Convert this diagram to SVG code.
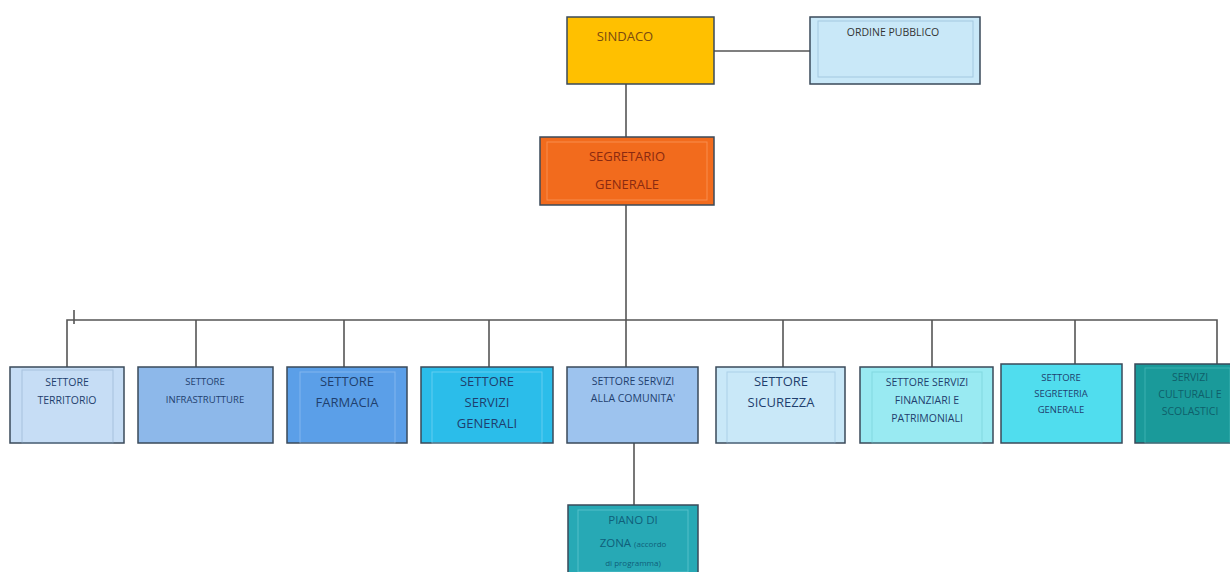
<svg xmlns="http://www.w3.org/2000/svg" width="1230" height="572" viewBox="0 0 1230 572">
<style>
.box{stroke:#3a4a5a;stroke-width:1.5}
.inner{fill:none;stroke-width:1;opacity:0.5}
.conn{fill:none;stroke:#555;stroke-width:1.6}
text{font-family:"Open Sans","Liberation Sans",sans-serif;text-anchor:middle}
.t{font-size:10.5px;fill:#1f3f6e}
.tb{font-size:13px;fill:#1f3f6e}
</style>
<rect width="1230" height="572" fill="#ffffff"/>
<g id="connectors">
<line class="conn" x1="714" y1="51" x2="810" y2="51" stroke-width="2.5"/>
<line class="conn" x1="626" y1="84" x2="626" y2="137"/>
<line class="conn" x1="626" y1="205" x2="626" y2="320"/>
<polyline class="conn" points="67,367 67,320 1217,320 1217,364"/>
<line class="conn" x1="74" y1="310" x2="74" y2="324"/>
<line class="conn" x1="196" y1="320" x2="196" y2="367"/>
<line class="conn" x1="344" y1="320" x2="344" y2="367"/>
<line class="conn" x1="489" y1="320" x2="489" y2="367"/>
<line class="conn" x1="626" y1="320" x2="626" y2="367"/>
<line class="conn" x1="783" y1="320" x2="783" y2="367"/>
<line class="conn" x1="932" y1="320" x2="932" y2="367"/>
<line class="conn" x1="1075" y1="320" x2="1075" y2="364"/>
<line class="conn" x1="634" y1="443" x2="634" y2="505"/>
</g>
<g id="sindaco">
<rect class="box" x="567" y="17" width="147" height="67" fill="#ffc000"/>
<text x="625" y="41" class="tb" style="fill:#7a4a10">SINDACO</text>
</g>
<g id="ordine-pubblico">
<rect class="box" x="810" y="17" width="170" height="67" fill="#c9e8f8"/>
<rect class="inner" x="818" y="21" width="155" height="56" stroke="#7fa9c8"/>
<text x="893" y="36" class="t" style="fill:#333">ORDINE PUBBLICO</text>
</g>
<g id="segretario">
<rect class="box" x="540" y="137" width="174" height="68" fill="#f26b1d" stroke="#7a3010"/>
<rect class="inner" x="547" y="142" width="160" height="58" stroke="#ffb080"/>
<text x="627" y="161" class="tb" style="fill:#8a2a10">SEGRETARIO</text>
<text x="627" y="189" class="tb" style="fill:#8a2a10">GENERALE</text>
</g>
<g id="territorio">
<rect class="box" x="10" y="367" width="114" height="76" fill="#c6ddf5"/>
<rect class="inner" x="22" y="370" width="91" height="73" stroke="#8aa8c8"/>
<text x="67" y="386" class="t">SETTORE</text>
<text x="67" y="404" class="t">TERRITORIO</text>
</g>
<g id="infrastrutture">
<rect class="box" x="138" y="367" width="135" height="76" fill="#8db8ea"/>
<text x="205" y="385" class="t" style="font-size:9.5px">SETTORE</text>
<text x="205" y="403" class="t" style="font-size:9.5px">INFRASTRUTTURE</text>
</g>
<g id="farmacia">
<rect class="box" x="287" y="367" width="120" height="76" fill="#5b9fe8"/>
<rect class="inner" x="300" y="372" width="95" height="71" stroke="#a8cdf5"/>
<text x="347" y="386" class="tb">SETTORE</text>
<text x="347" y="407" class="tb">FARMACIA</text>
</g>
<g id="servizi-generali">
<rect class="box" x="421" y="367" width="132" height="76" fill="#2bbdea"/>
<rect class="inner" x="432" y="372" width="110" height="71" stroke="#9ae2f8"/>
<text x="487" y="386" class="tb">SETTORE</text>
<text x="487" y="407" class="tb">SERVIZI</text>
<text x="487" y="428" class="tb">GENERALI</text>
</g>
<g id="comunita">
<rect class="box" x="567" y="367" width="131" height="76" fill="#9dc3ee"/>
<text x="633" y="385" class="t">SETTORE SERVIZI</text>
<text x="633" y="402" class="t">ALLA COMUNITA'</text>
</g>
<g id="sicurezza">
<rect class="box" x="716" y="367" width="129" height="76" fill="#c9e8f8"/>
<rect class="inner" x="727" y="372" width="108" height="71" stroke="#8fb8d8"/>
<text x="781" y="386" class="tb">SETTORE</text>
<text x="781" y="407" class="tb">SICUREZZA</text>
</g>
<g id="finanziari">
<rect class="box" x="860" y="367" width="133" height="76" fill="#99eaf2"/>
<rect class="inner" x="872" y="372" width="110" height="71" stroke="#6cc8d0"/>
<text x="927" y="386" class="t">SETTORE SERVIZI</text>
<text x="927" y="404" class="t">FINANZIARI E</text>
<text x="927" y="422" class="t">PATRIMONIALI</text>
</g>
<g id="segreteria">
<rect class="box" x="1001" y="364" width="121" height="79" fill="#50ddee"/>
<text x="1061" y="381" class="t" style="font-size:9.5px">SETTORE</text>
<text x="1061" y="397" class="t" style="font-size:9.5px">SEGRETERIA</text>
<text x="1061" y="413" class="t" style="font-size:9.5px">GENERALE</text>
</g>
<g id="culturali">
<rect class="box" x="1135" y="364" width="100" height="79" fill="#1a9a9a"/>
<rect class="inner" x="1145" y="368" width="85" height="75" stroke="#5cc8c8"/>
<text x="1190" y="381" class="t" style="fill:#0f5f6a">SERVIZI</text>
<text x="1190" y="398" class="t" style="fill:#0f5f6a">CULTURALI E</text>
<text x="1190" y="415" class="t" style="fill:#0f5f6a">SCOLASTICI</text>
</g>
<g id="piano-di-zona">
<rect class="box" x="568" y="505" width="130" height="72" fill="#27a9b5"/>
<rect class="inner" x="578" y="510" width="110" height="62" stroke="#80d8e0"/>
<text x="633" y="524" style="fill:#0f5f7a;font-size:11.5px">PIANO DI</text>
<text x="633" y="547" style="fill:#0f5f7a;font-size:11.5px">ZONA <tspan style="font-size:8px">(accordo</tspan></text>
<text x="633" y="566" style="fill:#0f5f7a;font-size:8px">di programma)</text>
</g>
</svg>
